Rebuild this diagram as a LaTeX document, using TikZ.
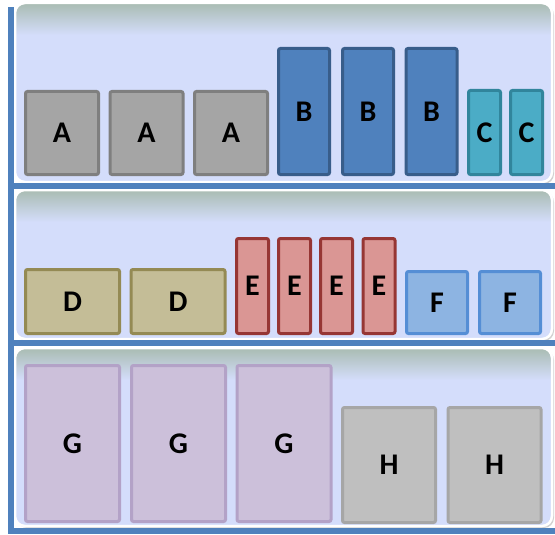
\documentclass[tikz,border=0pt]{standalone}
\usepackage{fontspec}
\setmainfont{Carlito}
\definecolor{lav}{HTML}{D4DDFB}
\definecolor{topg}{HTML}{A9BCB2}
\definecolor{barblue}{HTML}{4F81BD}
\definecolor{aF}{HTML}{A5A5A5}\definecolor{aD}{HTML}{7F7F7F}
\definecolor{bF}{HTML}{4F81BD}\definecolor{bD}{HTML}{385D8A}
\definecolor{cF}{HTML}{4BACC6}\definecolor{cD}{HTML}{31859C}
\definecolor{dF}{HTML}{C4BD97}\definecolor{dD}{HTML}{948A54}
\definecolor{eF}{HTML}{DA9694}\definecolor{eD}{HTML}{963634}
\definecolor{fF}{HTML}{8DB4E2}\definecolor{fD}{HTML}{558ED5}
\definecolor{gF}{HTML}{CCC0DA}\definecolor{gD}{HTML}{B3A2C7}
\definecolor{hF}{HTML}{BFBFBF}\definecolor{hD}{HTML}{A6A6A6}
\tikzset{
  box/.style={draw, line width=3pt, rounded corners=2pt, inner sep=0pt,
    font=\bfseries\fontsize{30}{36}\selectfont, text=black},
  abox/.style={box, fill=aF, draw=aD, minimum width=73pt, minimum height=83pt},
  bbox/.style={box, fill=bF, draw=bD, minimum width=51pt, minimum height=126pt},
  cbox/.style={box, fill=cF, draw=cD, minimum width=32pt, minimum height=84pt},
  dbox/.style={box, fill=dF, draw=dD, minimum width=94pt, minimum height=64pt},
  ebox/.style={box, fill=eF, draw=eD, minimum width=32pt, minimum height=95pt},
  fbox/.style={box, fill=fF, draw=fD, minimum width=61pt, minimum height=62pt},
  gbox/.style={box, fill=gF, draw=gD, minimum width=94pt, minimum height=156pt},
  hbox/.style={box, fill=hF, draw=hD, minimum width=93pt, minimum height=115pt},
  bar/.style={fill=barblue, draw=none},
}
\newcommand{\shelfpanel}[2]{%
  \fill[black!18, rounded corners=10pt] (17,#1+2) rectangle (554,#2+2);
  \begin{scope}
    \clip[rounded corners=10pt] (15,#1) rectangle (552,#2);
    \fill[lav] (15,#1) rectangle (552,#2);
    \shade[top color=topg, bottom color=lav] (15,#1) rectangle (552,#1+32);
  \end{scope}
  \draw[white, line width=2.5pt, rounded corners=10pt] (15,#1) rectangle (552,#2);
}
\begin{document}
\begin{tikzpicture}[x=1pt, y=-1pt]
\useasboundingbox (0,0) rectangle (555,535);
\fill[white] (0,0) rectangle (555,535);
\shelfpanel{3}{182}
\shelfpanel{190}{339}
\shelfpanel{348}{526}
% bars
\fill[bar] (8,7) rectangle (14,534);
\fill[bar] (8,183) rectangle (555,189);
\fill[bar] (8,340) rectangle (555,346);
\fill[bar] (8,528) rectangle (555,534);
% row 1
\node[abox] (a1) at (62,133) {A};
\node[abox] (a2) at (146.5,133) {A};
\node[abox] (a3) at (231,133) {A};
\node[bbox] (b1) at (304,111.5) {B};
\node[bbox] (b2) at (368,111.5) {B};
\node[bbox] (b3) at (431.5,111.5) {B};
\node[cbox] (c1) at (484.5,132.5) {C};
\node[cbox] (c2) at (526.5,132.5) {C};
% row 2
\node[dbox] (d1) at (72.5,301.5) {D};
\node[dbox] (d2) at (178,301.5) {D};
\node[ebox] (e1) at (252.5,286) {E};
\node[ebox] (e2) at (294.5,286) {E};
\node[ebox] (e3) at (336.5,286) {E};
\node[ebox] (e4) at (379,286) {E};
\node[fbox] (f1) at (437,302.5) {F};
\node[fbox] (f2) at (510,302.5) {F};
% row 3
\node[gbox] (g1) at (72.5,443.5) {G};
\node[gbox] (g2) at (178.5,443.5) {G};
\node[gbox] (g3) at (284,443.5) {G};
\node[hbox] (h1) at (389,465) {H};
\node[hbox] (h2) at (494.5,465) {H};
\end{tikzpicture}
\end{document}
